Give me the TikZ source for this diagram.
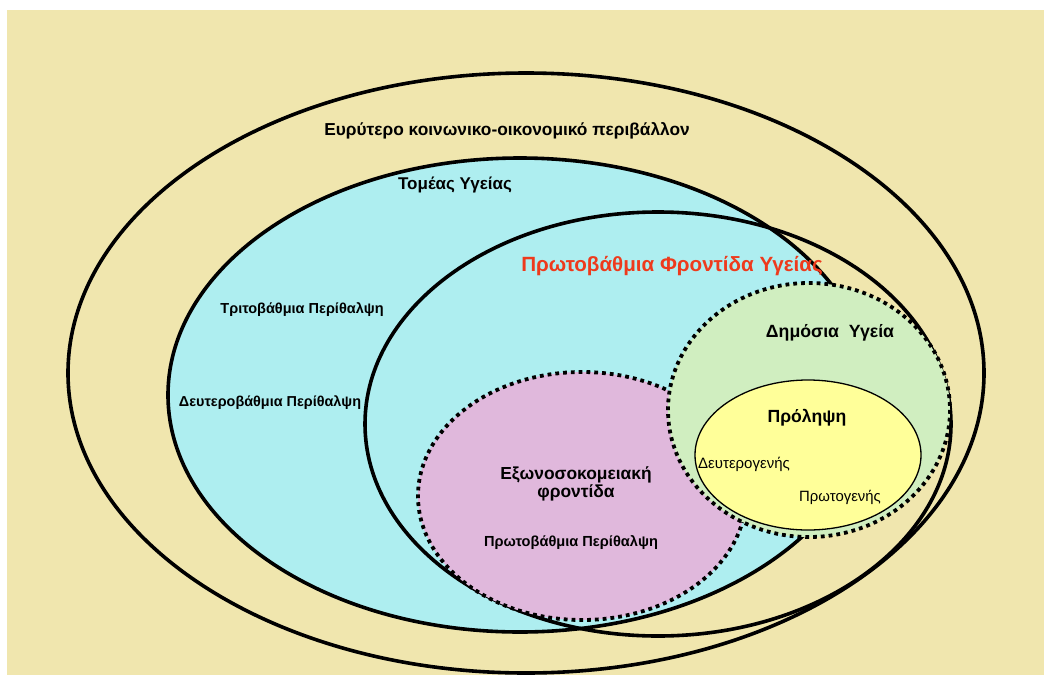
\documentclass[tikz,border=0pt]{standalone}
\usepackage{fontspec}
\setmainfont{Liberation Sans}
\definecolor{bgbeige}{HTML}{F0E6AE}
\definecolor{sectorcyan}{HTML}{AEEEF0}
\definecolor{clinicpink}{HTML}{E0B8DC}
\definecolor{publicgreen}{HTML}{D0EEC0}
\definecolor{prevyellow}{HTML}{FFFF99}
\definecolor{phcred}{HTML}{EE3A1C}
\newcommand{\fsz}[1]{\fontsize{#1}{#1}\selectfont}
\begin{document}
\begin{tikzpicture}[x=1pt,y=-1pt,
    ring/.style={draw=black,line width=3.6pt},
    dotring/.style={draw=black,line width=3.8pt,dash pattern=on 3.8pt off 4pt},
    thinring/.style={draw=black,line width=1.3pt},
    boldlbl/.style={font=\fsz{#1}\bfseries,inner sep=0pt},
    plainlbl/.style={font=\fsz{#1},inner sep=0pt}]
  \useasboundingbox (0,0) rectangle (1044,675);
  \fill[bgbeige] (7,10) rectangle (1044,675);
  \draw[ring] (526,373) ellipse [x radius=458,y radius=300];
  \filldraw[ring,fill=sectorcyan] (520,395) ellipse [x radius=352,y radius=237];
  \draw[ring] (658,424) ellipse [x radius=293,y radius=212];
  \filldraw[dotring,fill=clinicpink] (582,496) ellipse [x radius=164,y radius=124];
  \filldraw[dotring,fill=publicgreen] (809,410) ellipse [x radius=141,y radius=127];
  \filldraw[thinring,fill=prevyellow] (808,455) ellipse [x radius=113,y radius=75];

  \node[boldlbl=17.3] (widerenv) at (507,131) {Ευρύτερο κοινωνικο-οικονομικό περιβάλλον};
  \node[boldlbl=17] (sector) at (455,185) {Τομέας Υγείας};
  \node[boldlbl=20.6,text=phcred] (phc) at (672,266) {Πρωτοβάθμια Φροντίδα Υγείας};
  \node[boldlbl=14.5] (tertiary) at (302,310) {Τριτοβάθμια Περίθαλψη};
  \node[boldlbl=14.4] (secondary) at (270,403) {Δευτεροβάθμια Περίθαλψη};
  \node[boldlbl=17.7] (publichealth) at (830,333) {Δημόσια~~Υγεία};
  \node[boldlbl=17.6] (prevention) at (807,418) {Πρόληψη};
  \node[plainlbl=15] (secprev) at (744,464) {Δευτερογενής};
  \node[plainlbl=14.9] (primprev) at (840,497) {Πρωτογενής};
  \node[boldlbl=17.4,align=center] (outpatient) at (576,484) {Εξωνοσοκομειακή\\φροντίδα};
  \node[boldlbl=14.6] (primary) at (571,543) {Πρωτοβάθμια Περίθαλψη};
\end{tikzpicture}
\end{document}
